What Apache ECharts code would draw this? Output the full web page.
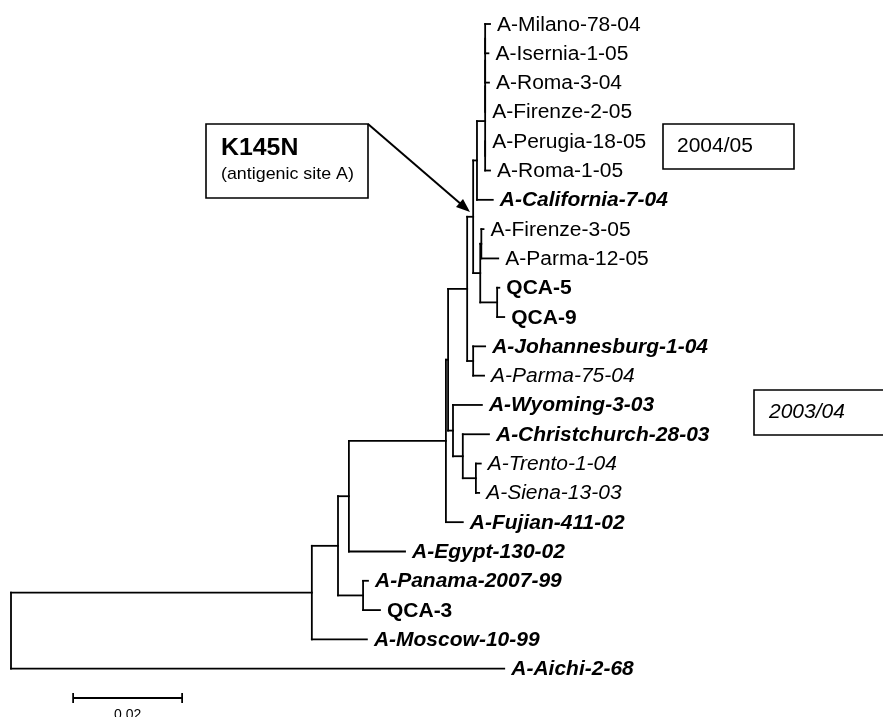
<!DOCTYPE html>
<html>
<head>
<meta charset="utf-8">
<title>HA1 tree</title>
<script src="https://cdn.jsdelivr.net/npm/echarts@6/dist/echarts.min.js"></script>
<style>
  html, body { margin: 0; padding: 0; background: #fff; }
  #chart { width: 883px; height: 717px; }
</style>
</head>
<body>
<div id="chart"></div>
<script>
// leaves, top to bottom
const leafNames = [
  'A-Milano-78-04', 'A-Isernia-1-05', 'A-Roma-3-04', 'A-Firenze-2-05', 'A-Perugia-18-05',
  'A-Roma-1-05', 'A-California-7-04', 'A-Firenze-3-05', 'A-Parma-12-05', 'QCA-5', 'QCA-9',
  'A-Johannesburg-1-04', 'A-Parma-75-04', 'A-Wyoming-3-03', 'A-Christchurch-28-03',
  'A-Trento-1-04', 'A-Siena-13-03', 'A-Fujian-411-02', 'A-Egypt-130-02', 'A-Panama-2007-99',
  'QCA-3', 'A-Moscow-10-99', 'A-Aichi-2-68'
]
// n = normal, b = bold, i = italic, bi = bold italic
const leafFonts = [
  'n', 'n', 'n', 'n', 'n', 'n', 'bi', 'n', 'n', 'b', 'b',
  'bi', 'i', 'bi', 'bi', 'i', 'i', 'bi', 'bi', 'bi', 'b', 'bi', 'bi'
]
// [child, parent, branch length], children listed top to bottom
const branches = [
  ['n1', 'root', 0.0552], ['A-Aichi-2-68', 'root', 0.0905],
  ['n2', 'n1', 0.0048], ['A-Moscow-10-99', 'n1', 0.0101],
  ['n4', 'n2', 0.0020], ['n3', 'n2', 0.0046],
  ['A-Panama-2007-99', 'n3', 0.0009], ['QCA-3', 'n3', 0.0031],
  ['n446', 'n4', 0.0178], ['A-Egypt-130-02', 'n4', 0.0103],
  ['n448', 'n446', 0.0004], ['A-Fujian-411-02', 'n446', 0.0031],
  ['n467', 'n448', 0.0035], ['n453', 'n448', 0.0009],
  ['nC', 'n467', 0.0011], ['n473', 'n467', 0.0011],
  ['nD', 'nC', 0.0007], ['nB', 'nC', 0.0013],
  ['nM', 'nD', 0.0015], ['A-California-7-04', 'nD', 0.0029],
  ['m3', 'nM', 0], ['m4', 'nM', 0],
  ['m2', 'm3', 0], ['A-Firenze-2-05', 'm3', 0],
  ['m1', 'm2', 0], ['A-Roma-3-04', 'm2', 0.0007],
  ['A-Milano-78-04', 'm1', 0.0009], ['A-Isernia-1-05', 'm1', 0.0006],
  ['A-Perugia-18-05', 'm4', 0], ['A-Roma-1-05', 'm4', 0.0009],
  ['nA', 'nB', 0.0002], ['nQ', 'nB', 0.0031],
  ['A-Firenze-3-05', 'nA', 0.0004], ['A-Parma-12-05', 'nA', 0.0031],
  ['QCA-5', 'nQ', 0.0004], ['QCA-9', 'nQ', 0.0013],
  ['A-Johannesburg-1-04', 'n473', 0.0022], ['A-Parma-75-04', 'n473', 0.0020],
  ['A-Wyoming-3-03', 'n453', 0.0053], ['n463', 'n453', 0.0018],
  ['A-Christchurch-28-03', 'n463', 0.0048], ['n476', 'n463', 0.0024],
  ['A-Trento-1-04', 'n476', 0.0009], ['A-Siena-13-03', 'n476', 0.0006]
]
const scaleBarStart = 0.0114
const scaleBarLength = 0.02
const scaleBarLabel = '0.02'

const FONT = '"Liberation Sans", Arial, Helvetica, sans-serif'
const STRETCH = 1.05 // the reference text is drawn a bit wider than tall
const fontOf = { n: ['normal', 'normal'], b: ['bold', 'normal'], i: ['normal', 'italic'], bi: ['bold', 'italic'] }

// lay out the tree: x = distance from root, y = leaf row
const children = {}
const branchLength = {}
branches.forEach(([child, parent, len]) => {
  (children[parent] = children[parent] || []).push(child)
  branchLength[child] = len
})
const nodeX = { root: 0 }
const nodeY = {}
const segments = []
const layout = (node) => {
  const kids = children[node]
  if (!kids) {
    nodeY[node] = leafNames.indexOf(node)
    return
  }
  kids.forEach(k => {
    nodeX[k] = nodeX[node] + branchLength[k]
    layout(k)
  })
  const first = nodeY[kids[0]]
  const last = nodeY[kids[kids.length - 1]]
  nodeY[node] = (first + last) / 2
  segments.push([nodeX[node], first, nodeX[node], last])
  kids.forEach(k => segments.push([nodeX[node], nodeY[k], nodeX[k], nodeY[k]]))
}
layout('root')

const leafData = leafNames.map((name, i) => [nodeX[name], i, i])
const scaleRow = leafNames.length

const chart = echarts.init(document.getElementById('chart'))

const option = {
  backgroundColor: '#fff',
  animation: false,
  grid: { left: 11, top: 24, width: 872, height: 674 },
  xAxis: { type: 'value', min: 0, max: 0.16, show: false },
  yAxis: { type: 'value', min: 0, max: scaleRow, inverse: true, show: false },
  series: [
    {
      // branches
      type: 'custom',
      data: segments,
      encode: { x: [0, 2], y: [1, 3] },
      renderItem: (params, api) => {
        const p1 = api.coord([api.value(0), api.value(1)])
        const p2 = api.coord([api.value(2), api.value(3)])
        return {
          type: 'line',
          shape: { x1: p1[0], y1: p1[1], x2: p2[0], y2: p2[1] },
          style: { stroke: '#000', lineWidth: 1.8, lineCap: 'square' }
        }
      }
    },
    {
      // leaf names
      type: 'custom',
      data: leafData,
      encode: { x: 0, y: 1 },
      renderItem: (params, api) => {
        const idx = api.value(2)
        const p = api.coord([api.value(0), api.value(1)])
        const f = fontOf[leafFonts[idx]]
        return {
          type: 'text',
          x: p[0] + 7,
          y: p[1] + 1,
          scaleX: STRETCH,
          style: {
            text: leafNames[idx],
            fontFamily: FONT,
            fontSize: 20,
            fontWeight: f[0],
            fontStyle: f[1],
            fill: '#000',
            align: 'left',
            verticalAlign: 'middle'
          }
        }
      }
    },
    {
      // scale bar
      type: 'custom',
      data: [[scaleBarStart, scaleRow, scaleBarStart + scaleBarLength, scaleRow]],
      encode: { x: [0, 2], y: [1, 3] },
      renderItem: (params, api) => {
        const p1 = api.coord([api.value(0), api.value(1)])
        const p2 = api.coord([api.value(2), api.value(3)])
        const st = { stroke: '#000', lineWidth: 1.8 }
        return {
          type: 'group',
          children: [
            { type: 'line', shape: { x1: p1[0], y1: p1[1], x2: p2[0], y2: p2[1] }, style: st },
            { type: 'line', shape: { x1: p1[0], y1: p1[1] - 5, x2: p1[0], y2: p1[1] + 5 }, style: st },
            { type: 'line', shape: { x1: p2[0], y1: p2[1] - 5, x2: p2[0], y2: p2[1] + 5 }, style: st },
            {
              type: 'text',
              x: (p1[0] + p2[0]) / 2,
              y: p1[1] + 17,
              style: {
                text: scaleBarLabel, fontFamily: FONT, fontSize: 14, fill: '#000',
                align: 'center', verticalAlign: 'middle'
              }
            }
          ]
        }
      }
    }
  ],
  graphic: [
    // mutation callout
    { type: 'rect', shape: { x: 206, y: 124, width: 162, height: 74 }, style: { fill: '#fff', stroke: '#000', lineWidth: 1.6 } },
    {
      type: 'text', x: 221, y: 149, scaleX: 1.08,
      style: { text: 'K145N', fontFamily: FONT, fontSize: 23, fontWeight: 'bold', fill: '#000', verticalAlign: 'middle' }
    },
    {
      type: 'text', x: 221, y: 174, scaleX: 1.05,
      style: { text: '(antigenic site A)', fontFamily: FONT, fontSize: 17, fill: '#000', verticalAlign: 'middle' }
    },
    { type: 'line', shape: { x1: 368, y1: 124, x2: 462, y2: 205 }, style: { stroke: '#000', lineWidth: 2 } },
    { type: 'polygon', shape: { points: [[470, 212], [456, 207], [463, 199]] }, style: { fill: '#000' } },
    // season boxes
    { type: 'rect', shape: { x: 663, y: 124, width: 131, height: 45 }, style: { fill: '#fff', stroke: '#000', lineWidth: 1.6 } },
    {
      type: 'text', x: 677, y: 146, scaleX: STRETCH,
      style: { text: '2004/05', fontFamily: FONT, fontSize: 20, fill: '#000', verticalAlign: 'middle' }
    },
    { type: 'rect', shape: { x: 754, y: 390, width: 160, height: 45 }, style: { fill: '#fff', stroke: '#000', lineWidth: 1.6 } },
    {
      type: 'text', x: 769, y: 412, scaleX: STRETCH,
      style: { text: '2003/04', fontFamily: FONT, fontSize: 20, fontStyle: 'italic', fill: '#000', verticalAlign: 'middle' }
    }
  ]
}

chart.setOption(option)
</script>
</body>
</html>
